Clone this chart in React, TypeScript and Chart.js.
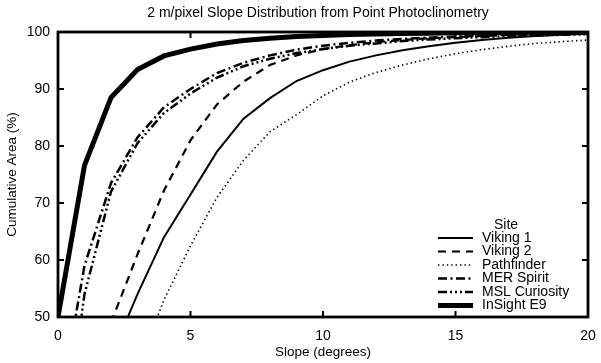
import React, { useEffect, useRef } from "react";
import { Chart, registerables } from "chart.js";

Chart.register(...registerables);

const slopes = [0, 1, 2, 3, 4, 5, 6, 7, 8, 9, 10, 11, 12, 13, 14, 15, 16, 17, 18, 19, 20];
const viking1 = [null, null, 43, 54, 64, 71.5, 79, 84.8, 88.4, 91.4, 93.3, 94.8, 95.9, 96.8, 97.5, 98.1, 98.6, 99.0, 99.3, 99.5, 99.7];
const viking2 = [null, null, 49, 61, 72.2, 81, 87.3, 91.3, 94.2, 95.9, 97, 97.7, 98.2, 98.6, 98.9, 99.1, 99.3, 99.5, 99.6, 99.7, 99.8];
const pathfinder = [null, null, null, 41, 53, 62.5, 71, 77.5, 82.5, 85.5, 88.8, 91.2, 92.9, 94.2, 95.3, 96.2, 96.9, 97.5, 98.0, 98.3, 98.6];
const merSpirit = [32.5, 59, 73.5, 81.5, 86.8, 90, 92.8, 94.6, 95.9, 96.9, 97.6, 98.1, 98.5, 98.8, 99.0, 99.2, 99.4, 99.5, 99.6, 99.7, 99.8];
const mslCuriosity = [20, 54, 72, 80.5, 85.8, 89.2, 92, 94, 95.3, 96.3, 97.0, 97.6, 98.0, 98.4, 98.7, 98.9, 99.1, 99.3, 99.4, 99.5, 99.6];
const insightE9 = [50, 76.6, 88.5, 93.4, 95.8, 97.0, 97.9, 98.5, 98.9, 99.2, 99.4, 99.55, 99.65, 99.75, 99.8, 99.85, 99.9, 99.92, 99.95, 99.97, 100];

const seriesNames = ["Viking 1", "Viking 2", "Pathfinder", "MER Spirit", "MSL Curiosity", "InSight E9"];
const seriesValues = [viking1, viking2, pathfinder, merSpirit, mslCuriosity, insightE9];
const seriesDash = [[], [8, 6], [1.4, 3], [9, 3.5, 2, 3.5], [9, 3, 2, 3, 2, 3, 2, 3], []];
const seriesWidth = [2, 2.2, 1.6, 2.5, 2.5, 5];

const xTicks = [0, 5, 10, 15, 20];
const yTicks = [50, 60, 70, 80, 90, 100];
const titleText = "2 m/pixel Slope Distribution from Point Photoclinometry";
const legendTitle = "Site";
const FONT = "'Liberation Sans', Arial, Helvetica, sans-serif";

const framePlugin = {
  id: "frame",
  afterDraw(chart: any) {
    const { ctx, chartArea } = chart;
    const { left, right, top, bottom } = chartArea;
    const xs = chart.scales.x;
    const ys = chart.scales.y;
    ctx.save();
    ctx.fillStyle = "#000";
    ctx.font = `14px ${FONT}`;
    ctx.textAlign = "center";
    ctx.textBaseline = "middle";
    ctx.fillText(titleText, 318, 13);
    ctx.strokeStyle = "#000";
    ctx.lineWidth = 2;
    ctx.setLineDash([]);
    const tl = 6;
    xTicks.forEach((v) => {
      const px = xs.getPixelForValue(v);
      ctx.beginPath();
      ctx.moveTo(px, bottom);
      ctx.lineTo(px, bottom - tl);
      ctx.moveTo(px, top);
      ctx.lineTo(px, top + tl);
      ctx.stroke();
    });
    yTicks.forEach((v) => {
      const py = ys.getPixelForValue(v);
      ctx.beginPath();
      ctx.moveTo(left, py);
      ctx.lineTo(left + tl, py);
      ctx.moveTo(right, py);
      ctx.lineTo(right - tl, py);
      ctx.stroke();
    });
    ctx.lineWidth = 2.8;
    ctx.strokeRect(left, top, right - left, bottom - top);
    ctx.font = `14px ${FONT}`;
    ctx.textAlign = "center";
    ctx.textBaseline = "middle";
    ctx.fillText(legendTitle, 506, 225);
    const rowY = [238, 251.5, 265, 278.5, 292, 305.5];
    seriesNames.forEach((name, i) => {
      const y = rowY[i];
      ctx.beginPath();
      ctx.lineWidth = seriesWidth[i];
      ctx.setLineDash(seriesDash[i]);
      ctx.moveTo(438, y);
      ctx.lineTo(473, y);
      ctx.stroke();
      ctx.setLineDash([]);
      ctx.textAlign = "left";
      ctx.fillText(name, 482, y);
    });
    ctx.restore();
  },
};

export default function App() {
  const ref = useRef<HTMLCanvasElement | null>(null);
  useEffect(() => {
    document.body.style.margin = "0";
    const canvas = ref.current;
    if (!canvas) return;
    const datasets = seriesNames.map((name, i) => ({
      label: name,
      data: slopes.map((s, j) => ({ x: s, y: seriesValues[i][j] })),
      borderColor: "#000",
      backgroundColor: "#000",
      borderWidth: seriesWidth[i],
      borderDash: seriesDash[i],
      pointRadius: 0,
      tension: 0,
      fill: false,
      spanGaps: false,
    }));
    const chart = new Chart(canvas, {
      type: "line",
      data: { datasets },
      plugins: [framePlugin],
      options: {
        animation: false,
        responsive: true,
        maintainAspectRatio: false,
        layout: { padding: { top: 32, right: 13, left: 0, bottom: 0 } },
        plugins: { legend: { display: false }, title: { display: false }, tooltip: { enabled: false } },
        scales: {
          x: {
            type: "linear",
            min: 0,
            max: 20,
            afterFit: (s: any) => { s.height = 46; s.paddingLeft = 0; s.paddingRight = 0; },
            afterBuildTicks: (s: any) => { s.ticks = xTicks.map((v) => ({ value: v })); },
            ticks: { color: "#000", font: { size: 14, family: FONT }, padding: 11, maxRotation: 0 },
            grid: { display: false, drawTicks: false },
            border: { display: false },
            title: { display: true, text: "Slope (degrees)", color: "#000", font: { size: 13.5, family: FONT }, padding: { top: 0, bottom: 3 } },
          },
          y: {
            type: "linear",
            min: 50,
            max: 100,
            afterFit: (s: any) => { s.width = 58; s.paddingTop = 0; s.paddingBottom = 0; },
            afterBuildTicks: (s: any) => { s.ticks = yTicks.map((v) => ({ value: v })); },
            ticks: { color: "#000", font: { size: 14, family: FONT }, padding: 8 },
            grid: { display: false, drawTicks: false },
            border: { display: false },
            title: { display: true, text: "Cumulative Area (%)", color: "#000", font: { size: 13.5, family: FONT }, padding: { top: 4, bottom: 0 } },
          },
        },
      },
    });
    return () => chart.destroy();
  }, []);
  return (
    <div style={{ position: "fixed", left: 0, top: 0, width: 601, height: 363, background: "#fff" }}>
      <canvas ref={ref} />
    </div>
  );
}
